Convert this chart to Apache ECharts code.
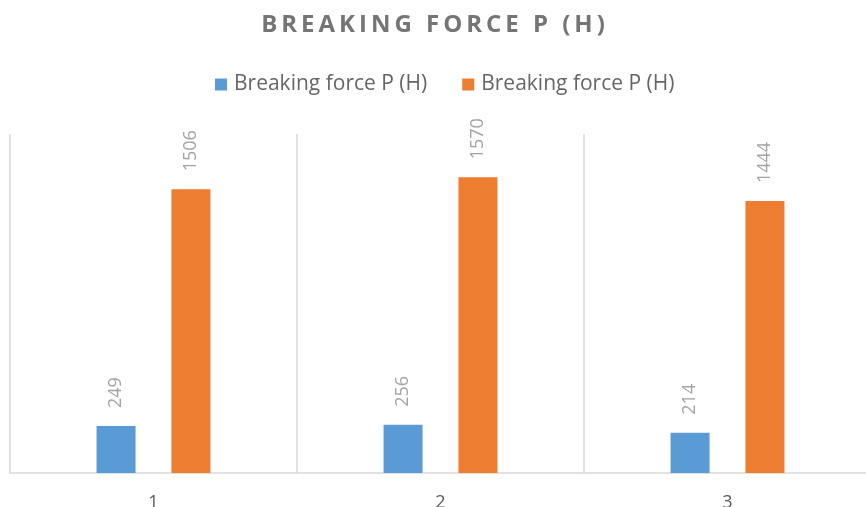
<!DOCTYPE html>
<html>
<head>
<meta charset="utf-8">
<script src="https://cdn.jsdelivr.net/npm/echarts@6/dist/echarts.min.js"></script>
<style>html,body{margin:0;padding:0;background:#fff}#c{width:866px;height:507px}</style>
</head>
<body>
<div id="c"></div>
<script>
const categories = ['1', '2', '3'];
const seriesNames = ['Breaking force P (H)', 'Breaking force P (H)'];
const seriesA = [249, 256, 214];
const seriesB = [1506, 1570, 1444];
const titleText = 'BREAKING FORCE P (H)';

const chart = echarts.init(document.getElementById('c'), null, {renderer: 'canvas'});
const labelCfg = {
  show: true, position: 'top', rotate: 90, align: 'left', verticalAlign: 'middle',
  distance: 18, color: '#a3a3a3', fontSize: 18, fontFamily: 'Open Sans'
};
chart.setOption({
  animation: false,
  color: ['#5b9bd5', '#ed7d31'],
  title: {
    text: titleText.split('').join('\u2009'), left: 'center', top: 8,
    textStyle: {fontFamily: 'Open Sans', fontWeight: 'bold', fontSize: 24, color: '#757575'}
  },
  legend: {
    top: 69, left: 210, itemWidth: 12, itemHeight: 12, itemGap: 35,
    icon: 'rect',
    textStyle: {fontFamily: 'Open Sans', fontSize: 21, color: '#666', padding: [0, 0, 0, 2]},
    data: [{name: 's0'}, {name: 's1'}],
    formatter: function (n) { return n === 's0' ? seriesNames[0] : seriesNames[1]; }
  },
  grid: {left: 10, top: 134, width: 861, height: 339, outerBoundsMode: 'none', containLabel: false},
  xAxis: {
    type: 'category', data: categories,
    axisLine: {lineStyle: {color: '#d9d9d9', width: 1.5}},
    axisTick: {show: false},
    splitLine: {show: true, lineStyle: {color: '#d9d9d9', width: 1.5}},
    axisLabel: {margin: 21, fontFamily: 'Open Sans', fontSize: 18, color: '#595959'}
  },
  yAxis: {
    type: 'value', min: 0, max: 1800, show: false,
    splitLine: {show: false}
  },
  series: [
    {name: 's0', type: 'bar', data: seriesA, barWidth: 39, barGap: '92%', label: labelCfg},
    {name: 's1', type: 'bar', data: seriesB, barWidth: 39, barGap: '92%', label: labelCfg}
  ]
});
</script>
</body>
</html>
